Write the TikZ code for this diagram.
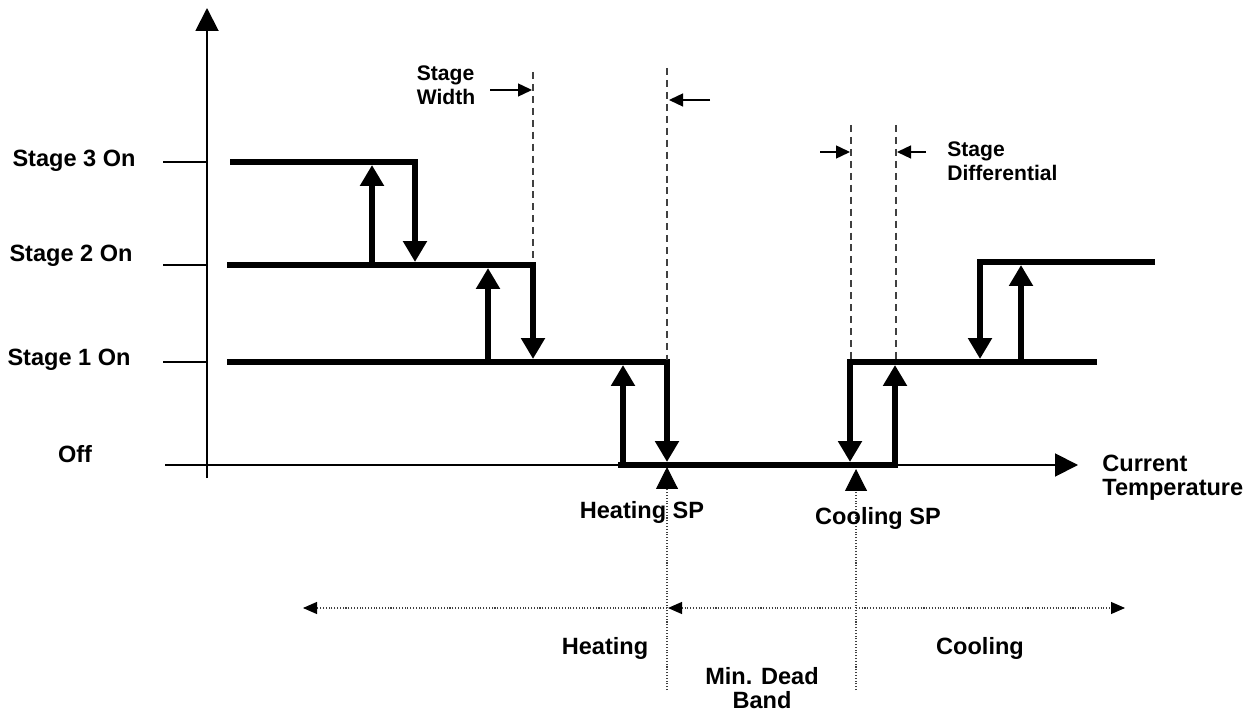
\documentclass[tikz,border=0pt]{standalone}
\usepackage{fontspec}
\setmainfont{Liberation Sans}
\usetikzlibrary{arrows.meta}
\definecolor{GuideGray}{HTML}{404040}

\begin{document}
\begin{tikzpicture}[x=0.02cm,y=-0.02cm,
  lbl/.style={font=\fontsize{13.4}{13.8}\selectfont\bfseries,align=center,inner sep=0pt},
  note/.style={font=\fontsize{12}{13.8}\selectfont\bfseries,align=left,inner sep=0pt},
  axis/.style={line width=1.1pt,-{Triangle[length=0.46cm,width=0.46cm]}},
  tick/.style={line width=1.1pt},
  move/.style={line width=3.2pt,-{Triangle[length=0.42cm,width=0.46cm]}},
  guide/.style={line width=0.7pt,dash pattern=on 4pt off 2.8pt,GuideGray},
  pointer/.style={line width=0.8pt,-{Triangle[length=0.28cm,width=0.26cm]}},
  band/.style={line width=0.6pt,densely dotted,GuideGray},
  spmark/.style={band,-{Triangle[length=0.44cm,width=0.44cm,color=black]}},
  spanline/.style={band,-{Triangle[length=0.28cm,width=0.24cm,color=black]}}
]
\useasboundingbox (0,0) rectangle (1246,712);
% axes and level ticks
\draw[axis] (207,478) -- (207,8);
\draw[axis] (165,465) -- (1078,465);
\foreach \y in {162,265,362} \draw[tick] (163,\y) -- (207,\y);
\node[lbl] (s3) at (74,161) {Stage 3 On};
\node[lbl] (s2) at (71,256) {Stage 2 On};
\node[lbl] (s1) at (69,360) {Stage 1 On};
\node[lbl] (off) at (75,454) {Off};
% heating stages
\draw[move] (230,162) -- (415,162) -- (415,262);
\draw[move] (372,265) -- (372,165);
\draw[move] (227,265) -- (533,265) -- (533,359);
\draw[move] (488,362) -- (488,268);
\draw[move] (227,362) -- (667,362) -- (667,462);
\draw[move] (623,467) -- (623,365);
% cooling stages
\draw[move] (618,465) -- (895,465) -- (895,365);
\draw[move] (1097,362) -- (850,362) -- (850,462);
\draw[move] (1155,262) -- (980,262) -- (980,359);
\draw[move] (1021,362) -- (1021,265);
% width and differential guides
\draw[guide] (533,72) -- (533,262);
\draw[guide] (667,68) -- (667,360);
\draw[guide] (851,125) -- (851,360);
\draw[guide] (896,125) -- (896,360);
\draw[pointer] (490,90) -- (532,90);
\draw[pointer] (710,100) -- (669,100);
\draw[pointer] (820,152) -- (850,152);
\draw[pointer] (926,152) -- (897,152);
\node[note] (width) at (446,85) {Stage\\Width};
\node[note,anchor=west] (diff) at (947,161) {Stage\\Differential};
% set points
\draw[spmark] (667,690) -- (667,467);
\draw[spmark] (856,690) -- (856,469);
\node[lbl] (hsp) at (642,512) {Heating SP};
\node[lbl] (csp) at (878,518) {Cooling SP};
\node[lbl,anchor=west,align=left] (temp) at (1102,478) {Current\\Temperature};
% operating bands
\draw[spanline] (667,608) -- (303,608);
\draw[spanline,{Triangle[length=0.28cm,width=0.24cm,color=black]}-] (668,608) -- (853,608);
\draw[spanline] (856,608) -- (1125,608);
\node[lbl] (heat) at (605,648) {Heating};
\node[lbl] (dead) at (762,688) {Min. Dead\\Band};
\node[lbl] (cool) at (980,648) {Cooling};
\end{tikzpicture}
\end{document}
